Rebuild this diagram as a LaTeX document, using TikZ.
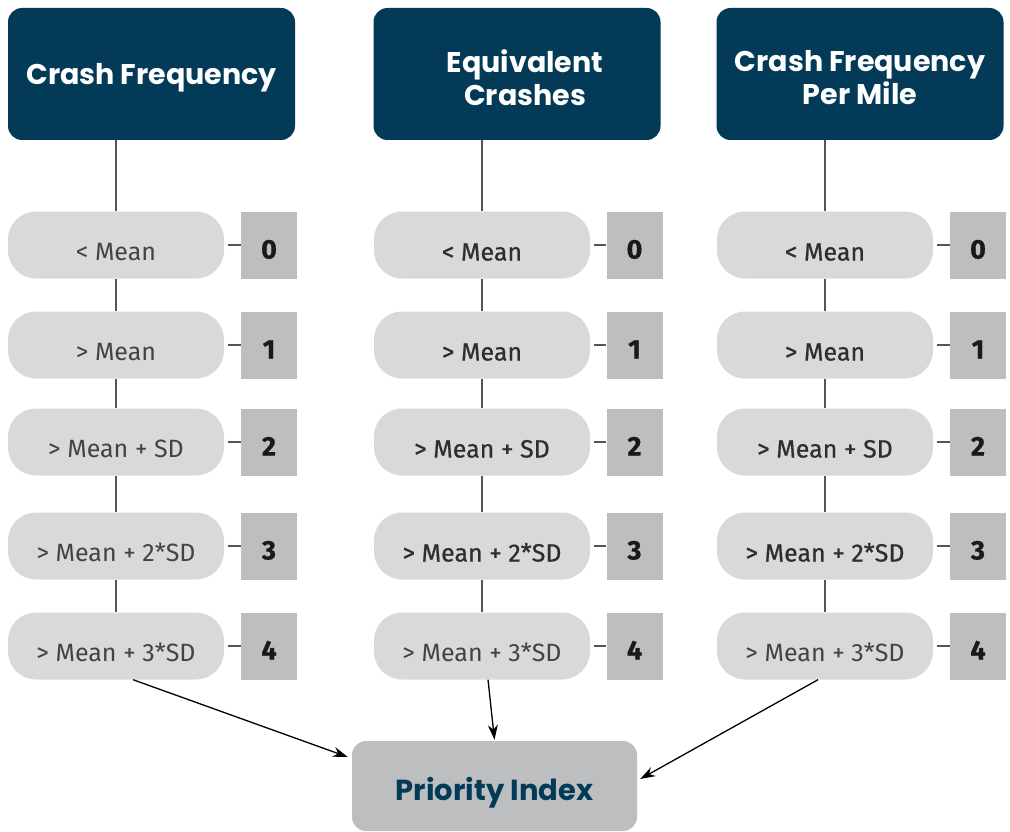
\documentclass[tikz,border=0pt]{standalone}
\usepackage{fontspec}
\setmainfont{Fira Sans}
\newfontfamily\headf{Poppins}
\newfontfamily\medf[FakeBold=0.6]{Fira Sans}
\newfontfamily\numf[FakeBold=0.8]{Fira Sans}
\usetikzlibrary{arrows.meta}
\definecolor{navy}{HTML}{033A57}
\definecolor{pillgray}{HTML}{D9D9D9}
\definecolor{sqgray}{HTML}{BDBEC0}
\definecolor{linegray}{HTML}{555555}
\definecolor{txtgray}{HTML}{2E2E2E}
\begin{document}
\begin{tikzpicture}[x=1pt,y=-1pt,
  hdr/.style={fill=navy,rounded corners=14pt,minimum width=287pt,minimum height=132pt,inner sep=0pt},
  hdrtext/.style={text=white,align=center,inner sep=0pt,yshift=-4pt,
    font=\headf\bfseries\fontsize{28.5}{33}\selectfont},
  pill/.style={fill=pillgray,rounded corners=28pt,minimum width=216pt,minimum height=67pt,inner sep=0pt,
    text=txtgray,text height=31pt,text depth=0pt,font=\medf\fontsize{25}{28}\selectfont},
  lpill/.style={pill,text=txtgray!90,font=\fontsize{25}{28}\selectfont},
  sq/.style={fill=sqgray,minimum width=56pt,minimum height=67pt,inner sep=0pt,
    text=black!90,text height=27pt,text depth=0pt,font=\numf\bfseries\fontsize{27}{30}\selectfont},
  stem/.style={draw=linegray,line width=1.8pt},
  arr/.style={draw=black,line width=1.3pt,-{Stealth[length=15pt,width=10pt]}},
  pri/.style={fill=sqgray,rounded corners=14pt,minimum width=285pt,minimum height=90pt,inner sep=0pt,
    text=navy,text height=28pt,text depth=0pt,font=\headf\bfseries\fontsize{29}{32}\selectfont}]
\useasboundingbox (0,0) rectangle (1010,832);

% headers
\node[hdr,label={[hdrtext]center:Crash Frequency}] (h1) at (151.5,74) {};
\node[hdr,label={[hdrtext,xshift=8pt]center:Equivalent\\Crashes}] (h2) at (517,74) {};
\node[hdr,label={[hdrtext]center:Crash Frequency\\Per Mile}] (h3) at (860,74) {};

% column 1
\node[lpill] (p10) at (116,245) {< Mean};
\node[lpill] (p11) at (116,345) {> Mean};
\node[lpill] (p12) at (116,442) {> Mean + SD};
\node[lpill] (p13) at (116,546) {> Mean + 2*SD};
\node[lpill] (p14) at (116,646) {> Mean + 3*SD};
% column 2
\node[pill] (p20) at (482,245) {< Mean};
\node[pill] (p21) at (482,345) {> Mean};
\node[pill] (p22) at (482,442) {> Mean + SD};
\node[pill] (p23) at (482,546) {> Mean + 2*SD};
\node[lpill] (p24) at (482,646) {> Mean + 3*SD};
% column 3
\node[pill] (p30) at (825,245) {< Mean};
\node[pill] (p31) at (825,345) {> Mean};
\node[pill] (p32) at (825,442) {> Mean + SD};
\node[pill] (p33) at (825,546) {> Mean + 2*SD};
\node[lpill] (p34) at (825,646) {> Mean + 3*SD};

% score squares
\foreach \c/\sx in {1/269,2/634.5,3/978}{
  \foreach \r/\yy in {0/245,1/345,2/442,3/546,4/646}{
    \node[sq] (s\c\r) at (\sx,\yy) {\r};
    \draw[stem] ([xshift=4pt]p\c\r.east) -- (s\c\r.west);
  }
  \draw[stem] (h\c.south -| p\c0.north) -- (p\c0.north);
  \draw[stem] (p\c0.south) -- (p\c1.north);
  \draw[stem] (p\c1.south) -- (p\c2.north);
  \draw[stem] (p\c2.south) -- (p\c3.north);
  \draw[stem] (p\c3.south) -- (p\c4.north);
}

% priority index
\node[pri] (pi) at (494.5,786) {Priority Index};
\draw[arr] ([xshift=17pt]p14.south) -- ([xshift=-4pt,yshift=29pt]pi.west);
\draw[arr] ([xshift=6pt]p24.south) -- ([yshift=1pt]pi.north);
\draw[arr] ([xshift=-7pt]p34.south) -- ([xshift=3pt,yshift=7pt]pi.east);
\end{tikzpicture}
\end{document}
